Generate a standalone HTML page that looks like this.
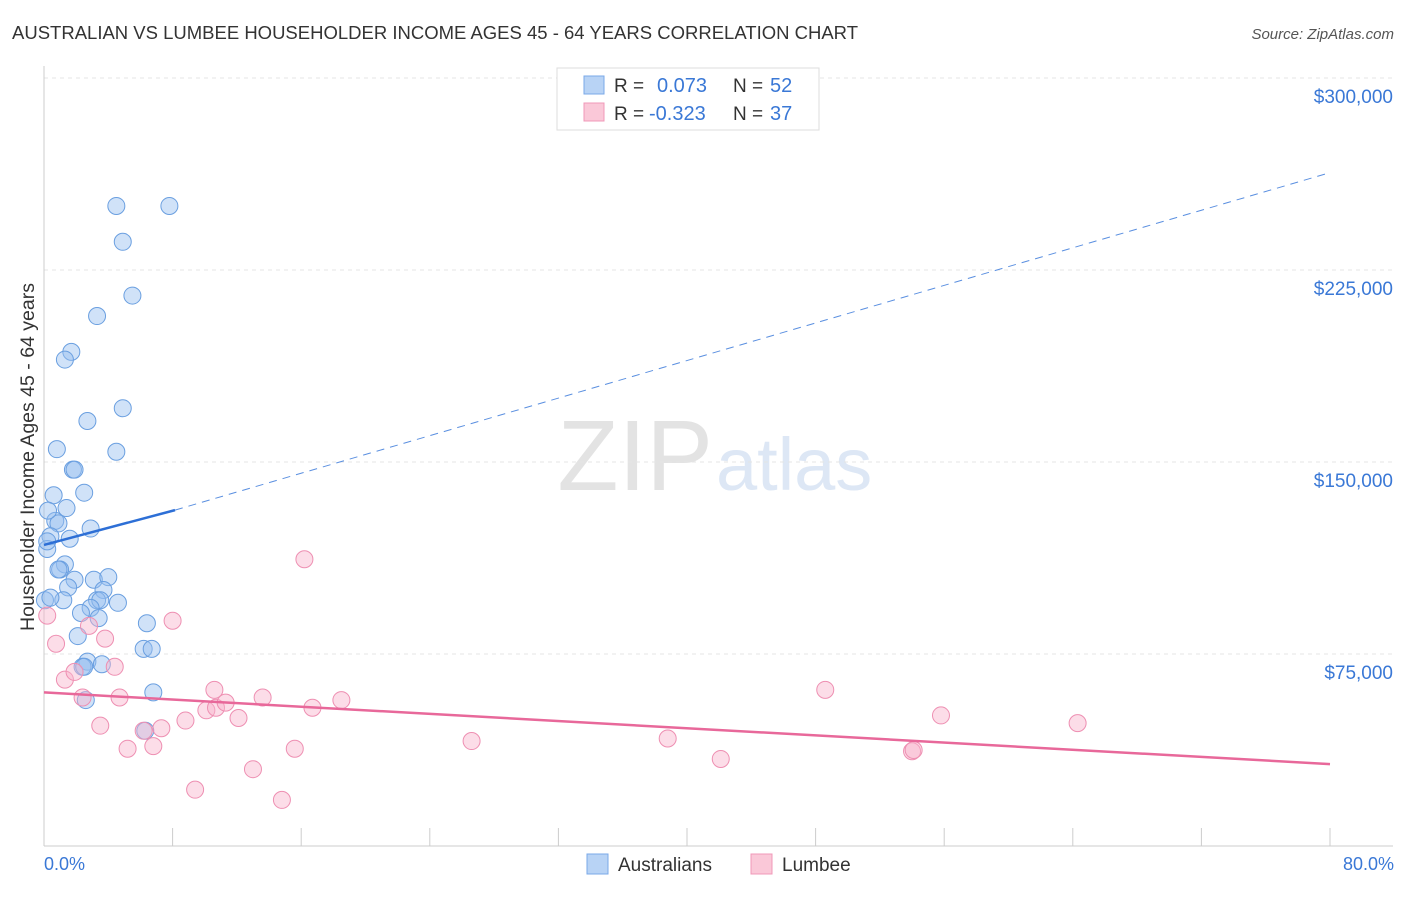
<!DOCTYPE html>
<html><head><meta charset="utf-8"><style>
body{margin:0;background:#fff;font-family:"Liberation Sans",sans-serif}
svg text{font-family:"Liberation Sans",sans-serif}
</style></head><body>
<svg id="chart" width="1406" height="892" viewBox="0 0 1406 892" xmlns="http://www.w3.org/2000/svg">
<text x="12" y="39" font-size="18" fill="#333" textLength="846" lengthAdjust="spacingAndGlyphs">AUSTRALIAN VS LUMBEE HOUSEHOLDER INCOME AGES 45 - 64 YEARS CORRELATION CHART</text>
<text x="1394" y="39" font-size="15" fill="#555" font-style="italic" text-anchor="end">Source: ZipAtlas.com</text>
<text x="713" y="490" font-size="100" fill="#e3e3e3" text-anchor="end" font-family="Liberation Serif">ZIP</text>
<text x="716" y="490" font-size="74" fill="#dde7f5">atlas</text>
<g id="grid"></g><g id="axes"></g><g id="marks"></g>
<text transform="translate(34,457) rotate(-90)" font-size="19.5" fill="#333" text-anchor="middle">Householder Income Ages 45 - 64 years</text>
<text x="44" y="870" font-size="18" fill="#3a78d6">0.0%</text>
<text x="1394" y="870" font-size="18" fill="#3a78d6" text-anchor="end">80.0%</text>
<g>
<rect x="557" y="68" width="262" height="62" fill="#fff" stroke="#ddd"/>
<rect x="584" y="76" width="20" height="18" fill="#b8d3f5" stroke="#7aa8e8"/>
<rect x="584" y="103" width="20" height="18" fill="#fac8d8" stroke="#f098b8"/>
<text x="614" y="92" font-size="19" fill="#333">R = </text><text x="657" y="92" font-size="20" fill="#3a78d6">0.073</text>
<text x="733" y="92" font-size="19" fill="#333">N = </text><text x="770" y="92" font-size="20" fill="#3a78d6">52</text>
<text x="614" y="120" font-size="19" fill="#333">R = </text><text x="649" y="120" font-size="20" fill="#3a78d6">-0.323</text>
<text x="733" y="120" font-size="19" fill="#333">N = </text><text x="770" y="120" font-size="20" fill="#3a78d6">37</text>
</g>
<g>
<rect x="587" y="854" width="21" height="20" fill="#b8d3f5" stroke="#7aa8e8"/>
<text x="618" y="871" font-size="19" fill="#333">Australians</text>
<rect x="751" y="854" width="21" height="20" fill="#fac8d8" stroke="#f098b8"/>
<text x="782" y="871" font-size="19" fill="#333">Lumbee</text>
</g>
</svg>
<script>
const yTicks=[75000,150000,225000,300000];
const yTickLabels=["$75,000","$150,000","$225,000","$300,000"];
const ausX=[4.5,7.8,4.9,5.5,3.3,1.7,1.3,4.9,2.7,0.8,4.5,1.8,1.9,0.6,2.5,1.4,0.7,0.9,2.9,0.4,1.6,0.2,1.3,1.0,0.9,3.1,4.0,1.9,1.5,3.7,1.2,3.3,3.5,4.6,2.9,2.3,3.4,6.4,2.1,6.2,6.7,2.7,2.4,2.5,3.6,6.8,2.6,6.3,0.06,0.25,0.2,0.4];
const ausY=[250000,250000,236000,215000,207000,193000,190000,171000,166000,155000,154000,147000,147000,137000,138000,132000,127000,126000,124000,121000,120000,116000,110000,108000,108000,104000,105000,104000,101000,100000,96000,96000,96000,95000,93000,91000,89000,87000,82000,77000,77000,72000,70000,70000,71000,60000,57000,45000,96000,131000,119000,97000];
const lumX=[0.2,0.75,1.3,1.9,2.4,2.8,3.8,4.4,4.7,3.5,5.2,6.2,6.8,7.3,8.0,8.8,9.4,10.1,10.6,10.7,11.3,12.1,13.0,13.6,14.8,15.6,16.2,16.7,18.5,26.6,38.8,42.1,48.6,54.0,54.1,55.8,64.3];
const lumY=[90000,79000,65000,68000,58000,86000,81000,70000,58000,47000,38000,45000,39000,46000,88000,49000,22000,53000,61000,54000,56000,50000,30000,58000,18000,38000,112000,54000,57000,41000,42000,34000,61000,37000,37500,51000,48000];
const ausTrend=[[0,117600],[8.15,131200]];
const ausDash=[[8.15,131200],[80,263000]];
const lumTrend=[[0,60000],[80,32000]];
const X=v=>44+v*16.075, Y=v=>846-v/390.6;
const NS="http://www.w3.org/2000/svg";
function mk(p,t,a){const e=document.createElementNS(NS,t);for(const k in a)e.setAttribute(k,a[k]);p.appendChild(e);return e;}
const grid=document.getElementById('grid'),axes=document.getElementById('axes'),marks=document.getElementById('marks');
let g0=mk(grid,'line',{x1:44,x2:1393,y1:78,y2:78,stroke:'#e4e4e4','stroke-dasharray':'4,4'});


yTicks.forEach((v,i)=>{
 const l=mk(grid,'line',{x1:44,x2:1393,y1:Y(v),y2:Y(v),stroke:'#e4e4e4','stroke-dasharray':'4,4'});
 
 
 const t=mk(grid,'text',{x:1393,y:Y(v)+25,'font-size':19,fill:'#3a78d6','text-anchor':'end'});
 t.textContent=yTickLabels[i];
 
 
});
const ax=mk(axes,'line',{x1:44,x2:1393,y1:846,y2:846,stroke:'#ccc'});


const ay=mk(axes,'line',{x1:44,x2:44,y1:66,y2:846,stroke:'#ccc'});


for(let i=1;i<=10;i++){const t=mk(axes,'line',{x1:X(i*8),x2:X(i*8),y1:828,y2:846,stroke:'#ccc'});
 
 }
ausX.forEach((x,i)=>{const c=mk(marks,'circle',{cx:X(x),cy:Y(ausY[i]),r:8.5,fill:'rgba(150,190,240,0.45)',stroke:'#6a9fe0','stroke-width':1});
 
 });
lumX.forEach((x,i)=>{const c=mk(marks,'circle',{cx:X(x),cy:Y(lumY[i]),r:8.5,fill:'rgba(248,180,205,0.45)',stroke:'#ee8fb2','stroke-width':1});
 
 });
let l1=mk(marks,'line',{x1:X(ausTrend[0][0]),y1:Y(ausTrend[0][1]),x2:X(ausTrend[1][0]),y2:Y(ausTrend[1][1]),stroke:'#2d6fd6','stroke-width':2.5});


let l2=mk(marks,'line',{x1:X(ausDash[0][0]),y1:Y(ausDash[0][1]),x2:X(ausDash[1][0]),y2:Y(ausDash[1][1]),stroke:'#5a8fe0','stroke-width':1,'stroke-dasharray':'8,6'});


let l3=mk(marks,'line',{x1:X(lumTrend[0][0]),y1:Y(lumTrend[0][1]),x2:X(lumTrend[1][0]),y2:Y(lumTrend[1][1]),stroke:'#e8689a','stroke-width':2.5});


</script>
</body></html>
